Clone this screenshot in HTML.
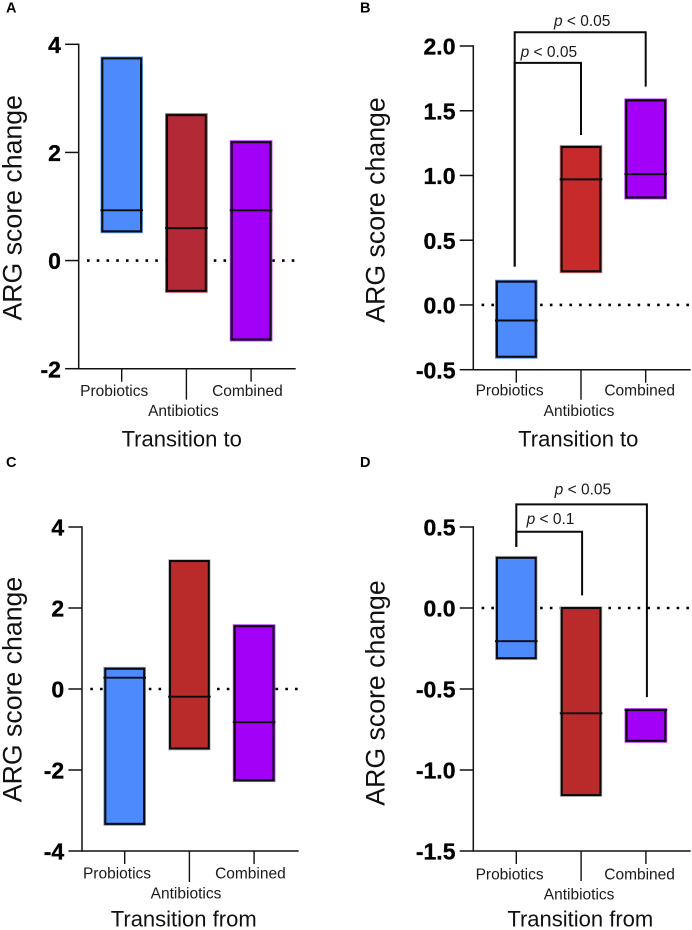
<!DOCTYPE html>
<html lang="en">
<head>
<meta charset="utf-8">
<title>ARG score change panels</title>
<style>
html,body{margin:0;padding:0;background:#fff;}
svg{display:block;font-family:"Liberation Sans",Arial,sans-serif;}
</style>
</head>
<body>
<svg id="fig" width="692" height="930" viewBox="0 0 692 930" xmlns="http://www.w3.org/2000/svg"></svg>
<script>
// Shared data
const categories = ['Probiotics', 'Antibiotics', 'Combined'];

// Panel A
const aTicks = [4, 2, 0, -2];
const aTickLabels = ['4', '2', '0', '-2'];
const aTop = [3.74, 2.69, 2.19];
const aMedian = [0.93, 0.6, 0.93];
const aBottom = [0.54, -0.56, -1.46];

// Panel B
const bTicks = [2, 1.5, 1, 0.5, 0, -0.5];
const bTickLabels = ['2.0', '1.5', '1.0', '0.5', '0.0', '-0.5'];
const bTop = [0.18, 1.22, 1.58];
const bMedian = [-0.12, 0.97, 1.01];
const bBottom = [-0.40, 0.26, 0.83];
const bBracketLevels = [1.87, 2.106];
const bBracketStart = [0.296, 0.296];
const bBracketEnd = [1.313, 1.686];
const bBracketLabels = ['0.05', '0.05'];

// Panel C
const cTicks = [4, 2, 0, -2, -4];
const cTickLabels = ['4', '2', '0', '-2', '-4'];
const cTop = [0.5, 3.16, 1.55];
const cMedian = [0.28, -0.19, -0.82];
const cBottom = [-3.33, -1.47, -2.25];

// Panel D
const dTicks = [0.5, 0, -0.5, -1, -1.5];
const dTickLabels = ['0.5', '0.0', '-0.5', '-1.0', '-1.5'];
const dTop = [0.31, 0, -0.63];
const dMedian = [-0.205, -0.65, -0.63];
const dBottom = [-0.31, -1.155, -0.82];
const dBracketLevels = [0.471, 0.64];
const dBracketStart = [0.377, 0.377];
const dBracketEnd = [0.078, -0.55];
const dBracketLabels = ['0.1', '0.05'];

const svg = document.getElementById('fig');
const NS = 'http://www.w3.org/2000/svg';

function mk(tag, attrs, parent) {
  const el = document.createElementNS(NS, tag);
  for (const k in attrs) el.setAttribute(k, attrs[k]);
  (parent || svg).appendChild(el);
  return el;
}

function drawPanel(p) {
  const g = mk('g', {});
  
  

  const vMax = p.ticks[0];
  const vMin = p.ticks[p.ticks.length - 1];
  const yScale = v => p.yBottom - (v - vMin) * (p.yBottom - p.yTop) / (vMax - vMin);
  const xScale = i => p.xFirst + i * p.xStep;

  // Panel letter
  const letter = mk('text', {x: p.letterX, y: p.letterY, 'font-size': 14.5, 'font-weight': 'bold', fill: '#000'}, g);
  letter.textContent = p.letter;
  
  

  // Zero reference line
  const zero = mk('line', {x1: p.axisX + 8.3, x2: p.zeroEnd, y1: yScale(0), y2: yScale(0), stroke: '#000', 'stroke-width': 2.6, 'stroke-dasharray': '2.6 7.15'}, g);
  
  

  // Bars
  categories.forEach((c, i) => {
    const cx = xScale(i);
    const yT = yScale(p.top[i]);
    const yB = yScale(p.bottom[i]);
    const yM = yScale(p.median[i]);
    const bar = mk('g', {}, g);
    
    
    mk('rect', {x: cx - 21.3, y: yT - 1.9, width: 42.6, height: yB - yT + 3.8, fill: p.edges[i]}, bar);
    mk('rect', {x: cx - 19.4, y: yT, width: 38.8, height: yB - yT, fill: p.fills[i], stroke: '#0a0a0a', 'stroke-width': 2.1}, bar);
    const med = mk('line', {x1: cx - 21.3, x2: cx + 21.3, y1: yM, y2: yM, stroke: '#0a0a0a', 'stroke-width': 1.9}, bar);
    
    
  });

  // Y axis
  const yAxis = mk('g', {}, g);
  
  
  mk('line', {x1: p.axisX, x2: p.axisX, y1: p.yTop - 0.7, y2: p.yBottom + 0.7, stroke: '#111', 'stroke-width': 1.5}, yAxis);
  p.ticks.forEach((t, i) => {
    const y = yScale(t);
    mk('line', {x1: p.axisX - 13.6, x2: p.axisX, y1: y, y2: y, stroke: '#111', 'stroke-width': 1.5}, yAxis);
    const lab = mk('text', {x: p.axisX - 17.8, y: y + 8.6, 'font-size': 23, 'font-weight': 'bold', 'text-anchor': 'end', fill: '#000', stroke: '#000', 'stroke-width': 0.3}, yAxis);
    lab.textContent = p.tickLabels[i];
    
    
  });

  // Y title
  const yt = mk('text', {x: 0, y: 0, 'font-size': 26.7, 'text-anchor': 'middle', fill: '#111', transform: 'translate(' + p.yTitleX + ' ' + p.yTitleY + ') rotate(-90)'}, g);
  yt.textContent = 'ARG score change';
  
  

  // X axis
  const xAxis = mk('g', {}, g);
  
  
  mk('line', {x1: p.axisX, x2: p.axisRight, y1: p.yBottom, y2: p.yBottom, stroke: '#111', 'stroke-width': 1.5}, xAxis);
  categories.forEach((c, i) => {
    const cx = xScale(i);
    const long = i === 1;
    mk('line', {x1: cx, x2: cx, y1: p.yBottom, y2: p.yBottom + (long ? p.longTick : 13), stroke: '#111', 'stroke-width': 1.4}, xAxis);
    const lab = mk('text', {x: cx + p.labelShift[i], y: long ? p.labelLow : p.labelHigh, 'font-size': 15.5, 'text-anchor': 'middle', fill: '#1a1a1a'}, xAxis);
    lab.textContent = c;
    
    
  });

  // X title
  const xt = mk('text', {x: p.xTitleX, y: p.xTitleY, 'font-size': 22, 'text-anchor': 'middle', fill: '#111'}, g);
  xt.textContent = p.xTitle;
  
  

  // Significance brackets
  if (p.bracketLevels) {
    p.bracketLevels.forEach((lvl, i) => {
      const xR = xScale(i + 1) + p.bracketRightShift;
      const xL = xScale(0) + p.bracketLeftShift;
      const yL = yScale(lvl);
      const br = mk('g', {}, g);
      
      
      mk('path', {d: 'M' + xL + ' ' + yScale(p.bracketStart[i]) + ' V' + yL + ' H' + xR + ' V' + yScale(p.bracketEnd[i]), fill: 'none', stroke: '#0a0a0a', 'stroke-width': 2}, br);
      const txt = mk('text', {x: (i === 0 ? (xL + xR) / 2 + p.pShiftInner : xR - p.pShiftOuter), y: yL - p.pLift[i], 'font-size': 15.5, 'text-anchor': 'middle', fill: '#1a1a1a'}, br);
      const it = mk('tspan', {'font-style': 'italic'}, txt);
      it.textContent = 'p';
      const rest = mk('tspan', {}, txt);
      rest.textContent = ' < ' + p.bracketLabels[i];
      
      
    });
  }
}

const blue = '#4d8bfd', purple = '#a200f7';

drawPanel({letter: 'A', letterX: 6, letterY: 12.7, ticks: aTicks, tickLabels: aTickLabels,
  top: aTop, median: aMedian, bottom: aBottom,
  fills: [blue, '#b32936', purple], edges: ['#64a6f5', '#cc4650', '#b52cf8'],
  axisX: 78.7, axisRight: 295.7, yTop: 44.3, yBottom: 368.7, xFirst: 121.7, xStep: 64.7, zeroEnd: 295,
  longTick: 31, labelShift: [-7.5, -3, -3.7], labelHigh: 396, labelLow: 416,
  yTitleX: 21.7, yTitleY: 207.8, xTitle: 'Transition to', xTitleX: 181.7, xTitleY: 446.7});

drawPanel({letter: 'B', letterX: 360, letterY: 12.7, ticks: bTicks, tickLabels: bTickLabels,
  top: bTop, median: bMedian, bottom: bBottom,
  fills: [blue, '#c62a2a', purple], edges: [blue, '#ea6e70', '#b52cf8'],
  axisX: 473.3, axisRight: 690.7, yTop: 46, yBottom: 369.7, xFirst: 516.3, xStep: 64.7, zeroEnd: 689,
  longTick: 30, labelShift: [-6.7, -2, -6], labelHigh: 395.7, labelLow: 416,
  yTitleX: 384.3, yTitleY: 210, xTitle: 'Transition to', xTitleX: 578.3, xTitleY: 446.7,
  bracketLevels: bBracketLevels, bracketStart: bBracketStart, bracketEnd: bBracketEnd, bracketLabels: bBracketLabels,
  bracketLeftShift: -1.6, bracketRightShift: 0, pShiftInner: 1, pShiftOuter: 63.5, pLift: [5.7, 6.3]});

drawPanel({letter: 'C', letterX: 6, letterY: 467, ticks: cTicks, tickLabels: cTickLabels,
  top: cTop, median: cMedian, bottom: cBottom,
  fills: [blue, '#b92b2b', purple], edges: ['#64a6f5', '#c9c9c9', '#b52cf8'],
  axisX: 82, axisRight: 298.7, yTop: 527, yBottom: 851, xFirst: 124.7, xStep: 64.7, zeroEnd: 298,
  longTick: 31, labelShift: [-7.7, -3.4, -3.7], labelHigh: 878.3, labelLow: 898.7,
  yTitleX: 21.7, yTitleY: 689.5, xTitle: 'Transition from', xTitleX: 183.7, xTitleY: 926.7});

drawPanel({letter: 'D', letterX: 360, letterY: 467, ticks: dTicks, tickLabels: dTickLabels,
  top: dTop, median: dMedian, bottom: dBottom,
  fills: [blue, '#b92b2b', purple], edges: ['#bdbdbd', '#c9c9c9', '#b52cf8'],
  axisX: 473.3, axisRight: 690.7, yTop: 527, yBottom: 851, xFirst: 516.3, xStep: 64.8, zeroEnd: 689,
  longTick: 30, labelShift: [-6.7, -2, -6.3], labelHigh: 879.3, labelLow: 899.7,
  yTitleX: 384.3, yTitleY: 693, xTitle: 'Transition from', xTitleX: 580.3, xTitleY: 926.7,
  bracketLevels: dBracketLevels, bracketStart: dBracketStart, bracketEnd: dBracketEnd, bracketLabels: dBracketLabels,
  bracketLeftShift: 0, bracketRightShift: 1, pShiftInner: 1.3, pShiftOuter: 64, pLift: [7.7, 9.7]});
</script>
</body>
</html>
